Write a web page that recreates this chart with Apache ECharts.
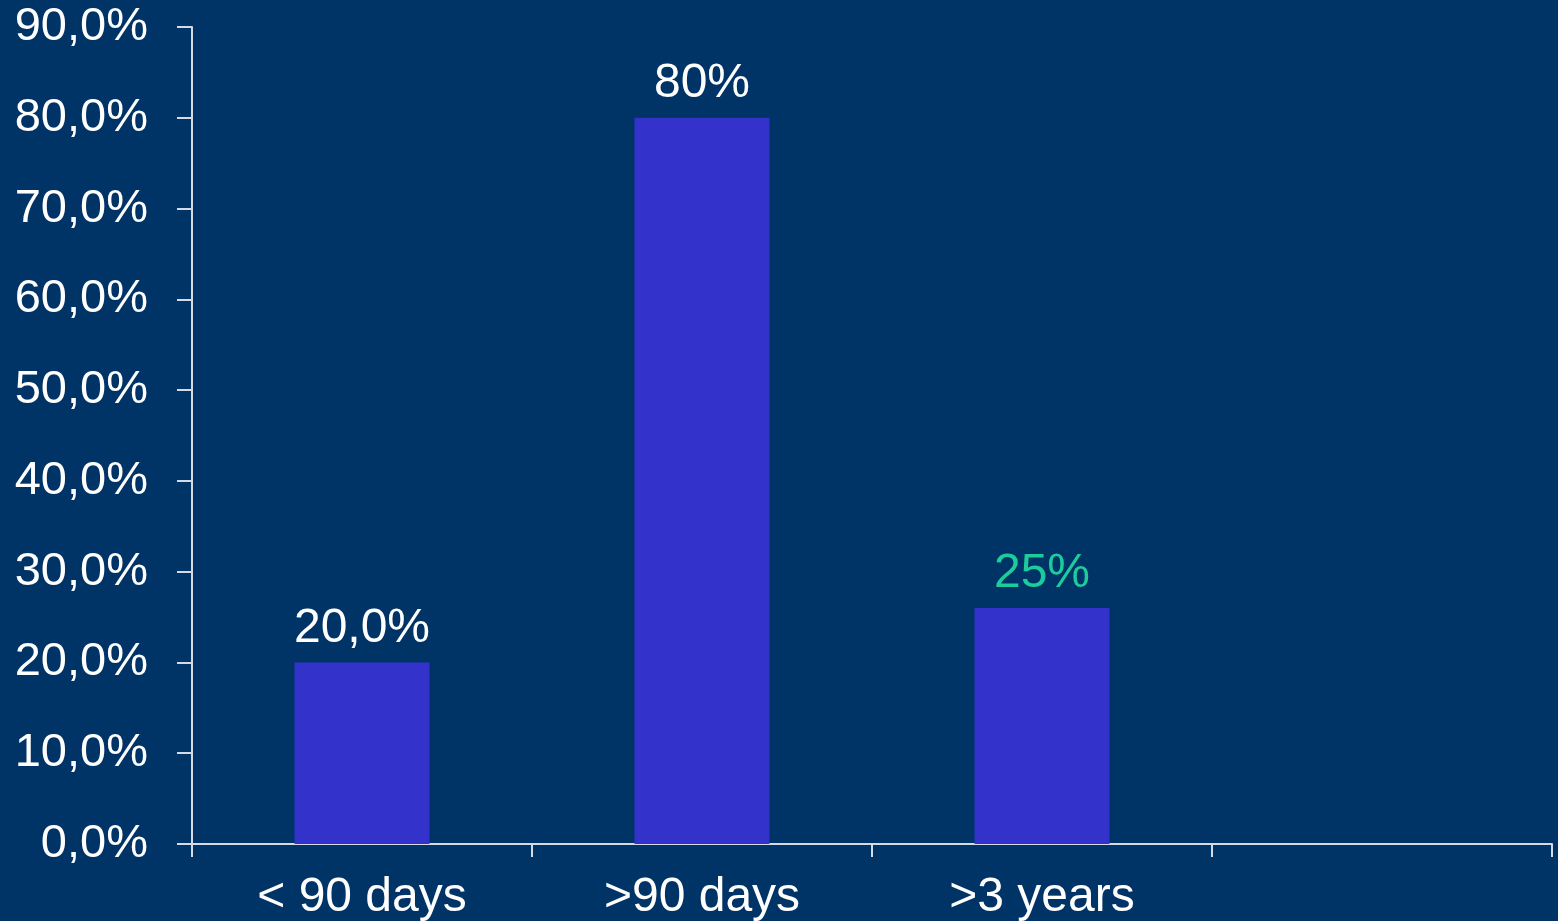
<!DOCTYPE html>
<html>
<head>
<meta charset="utf-8">
<script src="https://cdn.jsdelivr.net/npm/echarts@6/dist/echarts.min.js"></script>
<style>
html,body{margin:0;padding:0;background:#003366;}
#chart{width:1558px;height:921px;}
</style>
</head>
<body>
<div id="chart"></div>
<script>
const categories = ['< 90 days', '>90 days', '>3 years', ''];
const values = [20, 80, 26, null];
const barLabels = ['20,0%', '80%', '25%', ''];
const labelColors = ['#ffffff', '#ffffff', '#1ccc9c', '#ffffff'];
const yTicks = [0, 10, 20, 30, 40, 50, 60, 70, 80, 90];

const chart = echarts.init(document.getElementById('chart'));
const font = 'Liberation Sans, Arial, sans-serif';
const axisColor = '#d4dbe6';
chart.setOption({
  backgroundColor: '#003366',
  animation: false,
  grid: { left: 192, right: 6, top: 27, bottom: 77, outerBoundsMode: 'none', containLabel: false },
  xAxis: {
    type: 'category',
    data: categories,
    axisLine: { show: true, lineStyle: { color: axisColor, width: 2 } },
    axisTick: { show: true, length: 13, alignWithLabel: false, lineStyle: { color: axisColor, width: 2 } },
    axisLabel: { color: '#ffffff', fontSize: 48, fontFamily: font, margin: 30 },
    splitLine: { show: false }
  },
  yAxis: {
    type: 'value',
    min: yTicks[0],
    max: yTicks[yTicks.length - 1],
    interval: 10,
    axisLine: { show: true, lineStyle: { color: axisColor, width: 2 } },
    axisTick: { show: true, length: 15, lineStyle: { color: axisColor, width: 2 } },
    axisLabel: {
      color: '#ffffff', fontSize: 47, fontFamily: font, margin: 44,
      formatter: v => v.toFixed(1).replace('.', ',') + '%'
    },
    splitLine: { show: false }
  },
  series: [{
    type: 'bar',
    barWidth: 135,
    data: values.map((v, i) => ({
      value: v,
      label: { color: labelColors[i] }
    })),
    itemStyle: { color: '#3333cc' },
    label: {
      show: true,
      position: 'top',
      distance: 10,
      fontSize: 48,
      fontFamily: font,
      formatter: p => barLabels[p.dataIndex]
    }
  }]
});
</script>
</body>
</html>
